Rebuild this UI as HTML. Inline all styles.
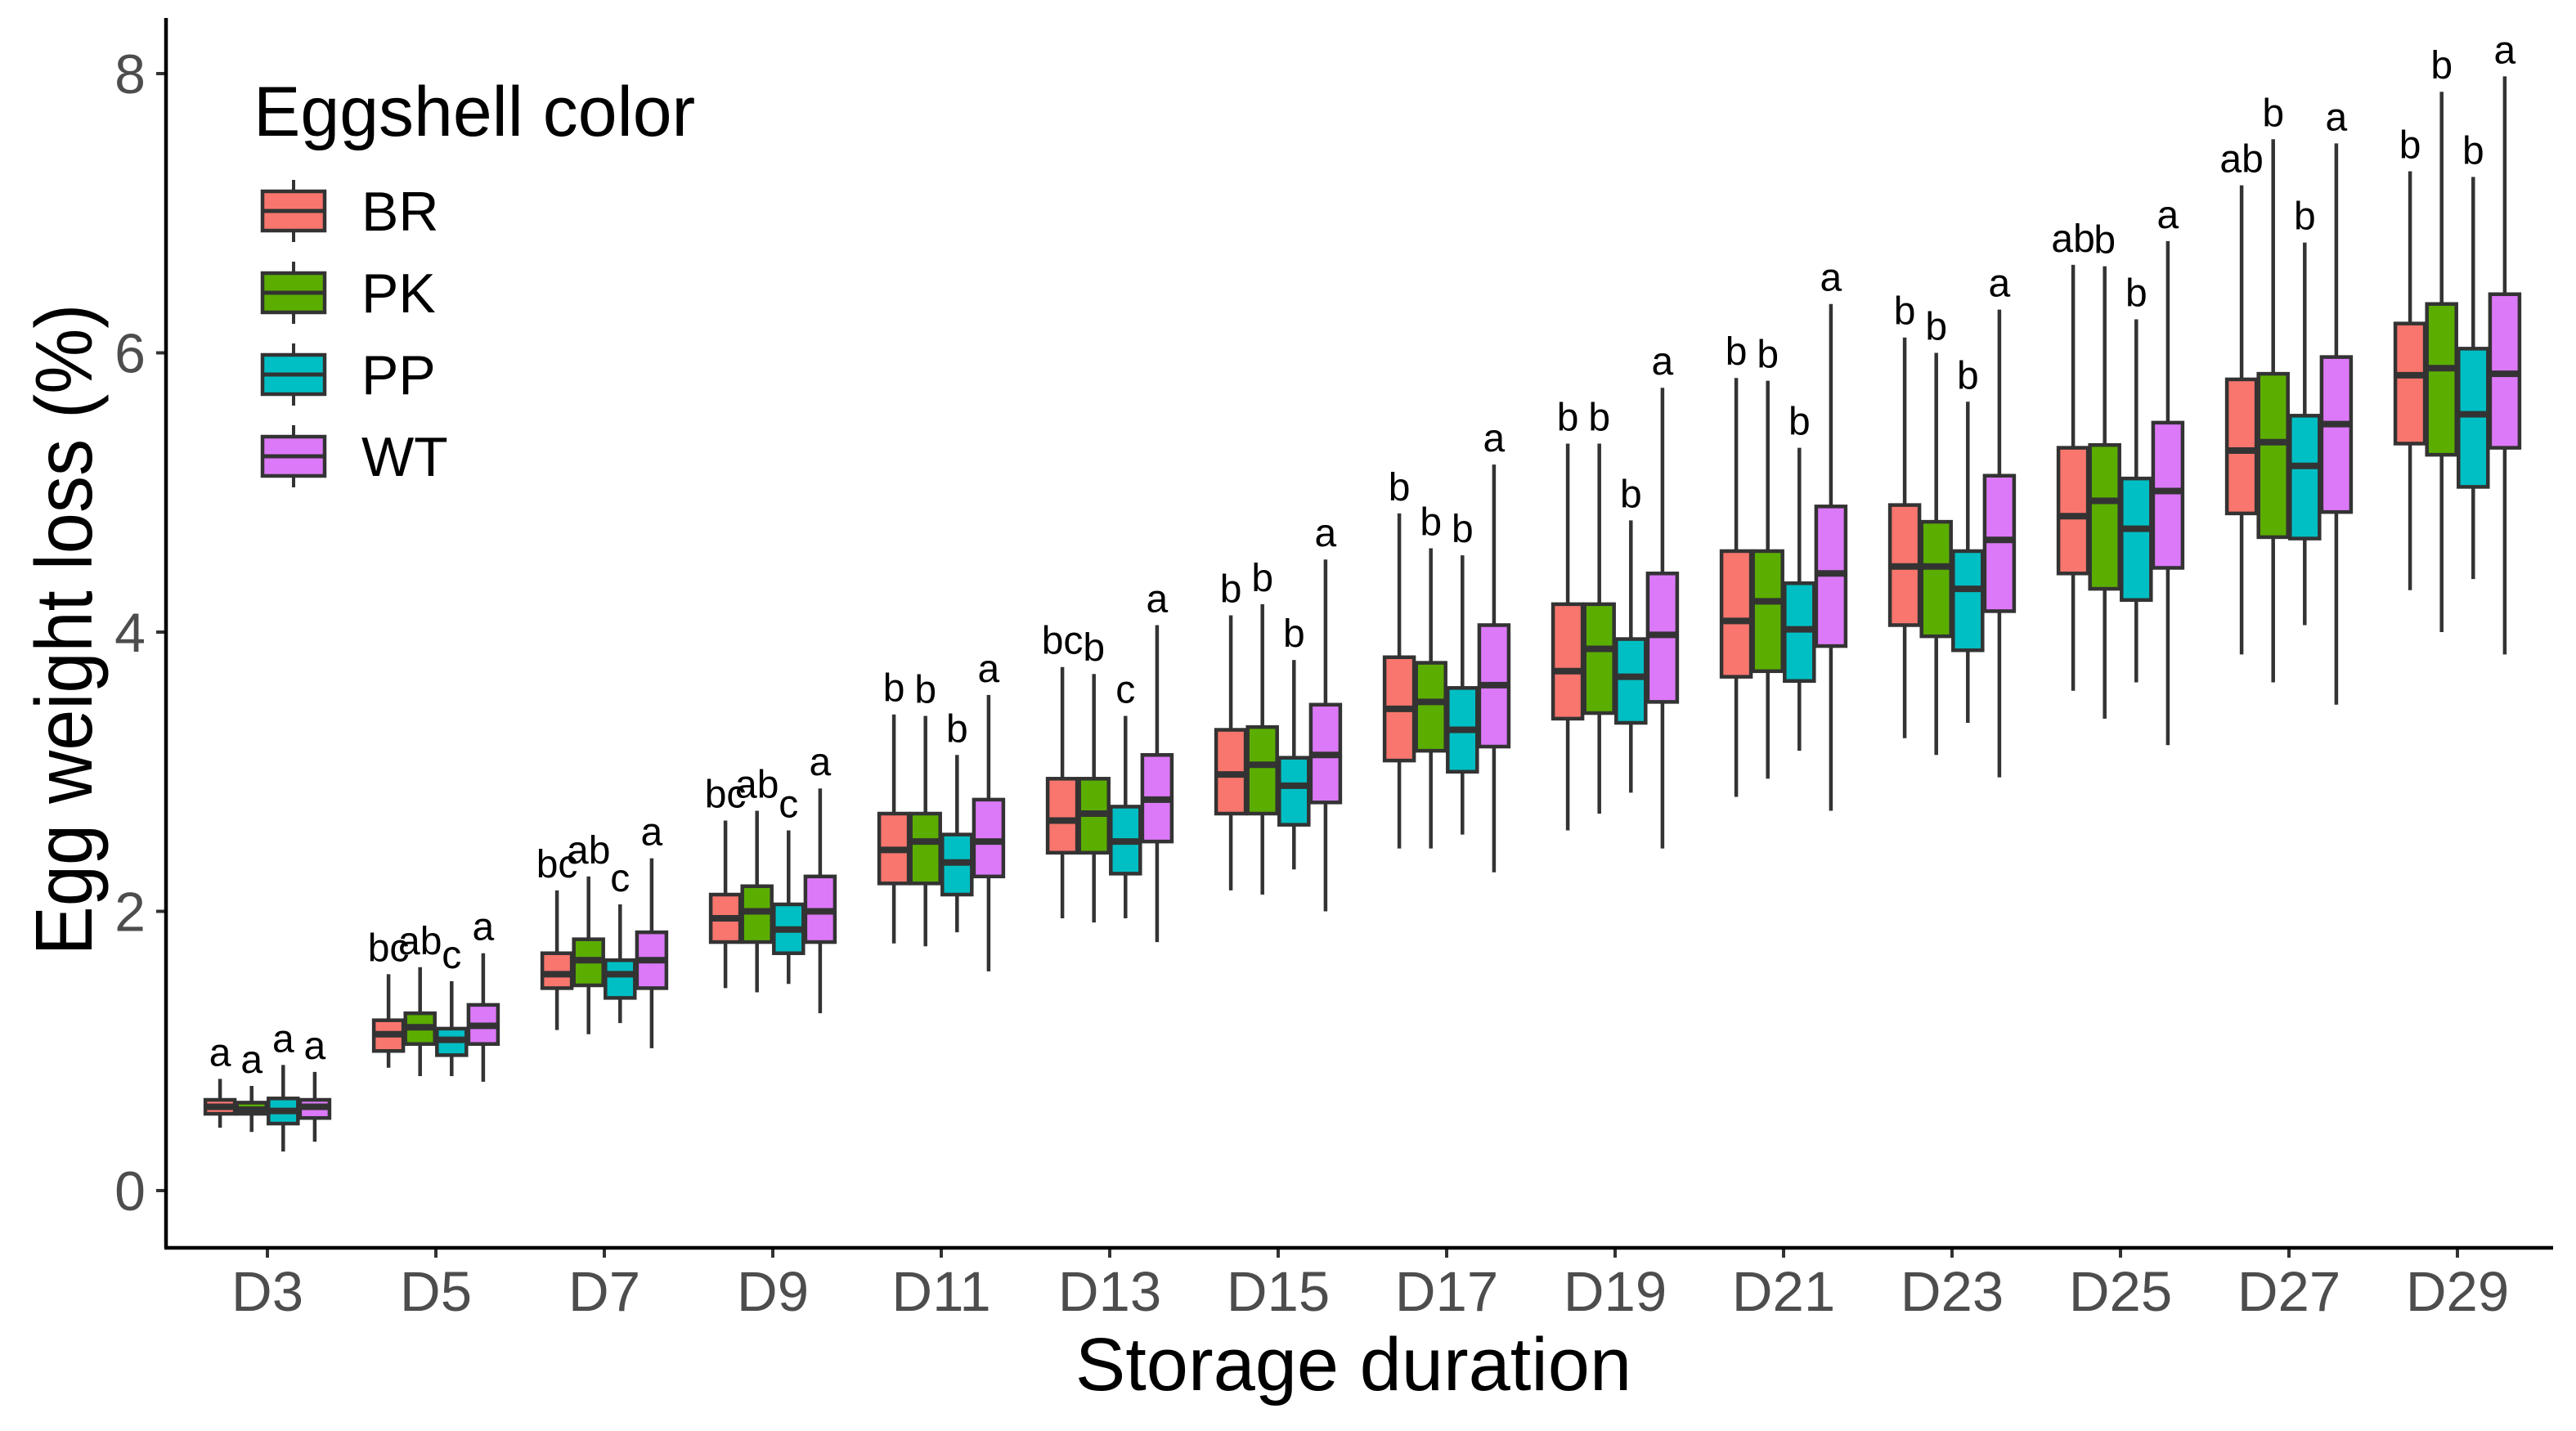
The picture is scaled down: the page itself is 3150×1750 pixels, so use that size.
<!DOCTYPE html>
<html><head><meta charset="utf-8"><style>
html,body{margin:0;padding:0;background:#fff;}
svg{display:block;font-family:"Liberation Sans",Arial,sans-serif;}
</style></head><body>
<svg id="chart" width="3150" height="1750" viewBox="0 0 3150 1750" xmlns="http://www.w3.org/2000/svg">
<rect width="3150" height="1750" fill="#fff"/>
<g id="plot"></g>
<g id="axes"></g>
<text transform="translate(112,770) rotate(-90) scale(0.92,1)" text-anchor="middle" font-size="98" fill="#000">Egg weight loss (%)</text>
<text x="1655" y="1700" text-anchor="middle" font-size="92" fill="#000">Storage duration</text>
<g id="legend">
<text x="310" y="166" font-size="86" fill="#000">Eggshell color</text>
</g>
</svg>
<script>
const categories=["D3","D5","D7","D9","D11","D13","D15","D17","D19","D21","D23","D25","D27","D29"];
const groups=["BR","PK","PP","WT"];
const colors=["#F8766D","#5BAE00","#00BFC4","#DC79F8"];
// [whiskerLow, q1, median, q3, whiskerHigh] per category
const seriesBR=[[0.45,0.55,0.6,0.65,0.8],[0.88,1.0,1.12,1.22,1.55],[1.15,1.45,1.55,1.7,2.15],[1.45,1.78,1.95,2.12,2.65],[1.77,2.2,2.44,2.7,3.41],[1.95,2.42,2.65,2.95,3.75],[2.15,2.7,2.98,3.3,4.12],[2.45,3.08,3.45,3.82,4.85],[2.58,3.38,3.72,4.2,5.35],[2.82,3.68,4.08,4.58,5.82],[3.24,4.05,4.47,4.91,6.11],[3.58,4.42,4.83,5.32,6.63],[3.84,4.85,5.3,5.81,7.2],[4.3,5.35,5.84,6.21,7.3]];
const seriesPK=[[0.42,0.55,0.58,0.63,0.75],[0.82,1.05,1.17,1.27,1.6],[1.12,1.47,1.65,1.8,2.25],[1.42,1.78,2.0,2.18,2.72],[1.75,2.2,2.5,2.7,3.4],[1.92,2.42,2.7,2.95,3.7],[2.12,2.7,3.05,3.32,4.2],[2.45,3.15,3.5,3.78,4.6],[2.7,3.42,3.88,4.2,5.35],[2.95,3.72,4.22,4.58,5.8],[3.12,3.97,4.47,4.79,6.0],[3.38,4.31,4.94,5.34,6.62],[3.64,4.68,5.36,5.85,7.53],[4.0,5.27,5.89,6.35,7.87]];
const seriesPP=[[0.28,0.48,0.57,0.66,0.9],[0.82,0.97,1.08,1.16,1.5],[1.2,1.38,1.55,1.65,2.05],[1.48,1.7,1.87,2.05,2.58],[1.85,2.12,2.35,2.55,3.12],[1.95,2.27,2.5,2.75,3.4],[2.3,2.62,2.9,3.1,3.8],[2.55,3.0,3.3,3.6,4.55],[2.85,3.35,3.68,3.95,4.8],[3.15,3.65,4.02,4.35,5.32],[3.35,3.87,4.31,4.58,5.65],[3.64,4.23,4.74,5.1,6.24],[4.05,4.67,5.19,5.55,6.79],[4.38,5.04,5.56,6.03,7.26]];
const seriesWT=[[0.35,0.52,0.6,0.65,0.85],[0.78,1.05,1.18,1.33,1.7],[1.02,1.45,1.65,1.85,2.38],[1.27,1.78,2.0,2.25,2.88],[1.57,2.25,2.5,2.8,3.55],[1.78,2.5,2.8,3.12,4.05],[2.0,2.78,3.12,3.48,4.52],[2.28,3.18,3.62,4.05,5.2],[2.45,3.5,3.98,4.42,5.75],[2.72,3.9,4.42,4.9,6.35],[2.96,4.15,4.66,5.12,6.31],[3.19,4.46,5.01,5.5,6.8],[3.48,4.86,5.49,5.97,7.5],[3.84,5.32,5.85,6.42,7.98]];
const lettersBR=["a","bc","bc","bc","b","bc","b","b","b","b","b","ab","ab","b"];
const lettersPK=["a","ab","ab","ab","b","b","b","b","b","b","b","b","b","b"];
const lettersPP=["a","c","c","c","b","c","b","b","b","b","b","b","b","b"];
const lettersWT=["a","a","a","a","a","a","a","a","a","a","a","a","a","a"];
const yTicks=[0,2,4,6,8];

const NS="http://www.w3.org/2000/svg";
const X0=327, XSTEP=206, DODGE=38.6, BW=36;
const Y0=1456, YU=170.75;
const xPos=i=>X0+i*XSTEP;
const yPos=v=>Y0-v*YU;
function mk(tag,attrs,parent){const e=document.createElementNS(NS,tag);for(const k in attrs)e.setAttribute(k,attrs[k]);parent.appendChild(e);return e;}
const plot=document.getElementById('plot');
const axes=document.getElementById('axes');
const allSeries=[seriesBR,seriesPK,seriesPP,seriesWT];
const allLetters=[lettersBR,lettersPK,lettersPP,lettersWT];
categories.forEach((c,i)=>{
  groups.forEach((g,j)=>{
    const d=allSeries[j][i];
    const cx=xPos(i)+(j-1.5)*DODGE;
    const grp=mk('g',{},plot);
    
    
    mk('line',{x1:cx,x2:cx,y1:yPos(d[0]),y2:yPos(d[4]),stroke:'#333',"stroke-width":4.5},grp);
    mk('rect',{x:cx-BW/2,y:yPos(d[3]),width:BW,height:yPos(d[1])-yPos(d[3]),fill:colors[j],stroke:'#333',"stroke-width":4.5},grp);
    mk('line',{x1:cx-BW/2,x2:cx+BW/2,y1:yPos(d[2]),y2:yPos(d[2]),stroke:'#333',"stroke-width":8},grp);
    const t=mk('text',{x:cx,y:yPos(d[4])-16,"text-anchor":"middle","font-size":48,fill:'#000'},plot);
    t.textContent=allLetters[j][i];
    
    
  });
  mk('line',{x1:xPos(i),x2:xPos(i),y1:1526,y2:1538,stroke:'#333',"stroke-width":4},axes);
  const t=mk('text',{x:xPos(i),y:1603,"text-anchor":"middle","font-size":69,fill:'#4d4d4d'},axes);
  t.textContent=c;
  
  
});
yTicks.forEach(v=>{
  mk('line',{x1:191,x2:203,y1:yPos(v),y2:yPos(v),stroke:'#333',"stroke-width":4},axes);
  const t=mk('text',{x:178,y:yPos(v)+24,"text-anchor":"end","font-size":68,fill:'#4d4d4d'},axes);
  t.textContent=v;
  
  
});
const ya=mk('line',{x1:203,x2:203,y1:22,y2:1526,stroke:'#000',"stroke-width":4.5},axes);


const xa=mk('line',{x1:201,x2:3122,y1:1526,y2:1526,stroke:'#000',"stroke-width":4.5},axes);


const legend=document.getElementById('legend');
groups.forEach((g,j)=>{
  const cy=258+j*100;
  const e=mk('g',{},legend);
  
  
  mk('line',{x1:359,x2:359,y1:cy-38,y2:cy+38,stroke:'#333',"stroke-width":4},e);
  mk('rect',{x:321,y:cy-24,width:76,height:48,fill:colors[j],stroke:'#333',"stroke-width":4.5},e);
  mk('line',{x1:321,x2:397,y1:cy,y2:cy,stroke:'#333',"stroke-width":5},e);
  const t=mk('text',{x:442,y:cy+24,"font-size":68,fill:'#000'},e);
  t.textContent=g;
});
</script>
</body></html>
